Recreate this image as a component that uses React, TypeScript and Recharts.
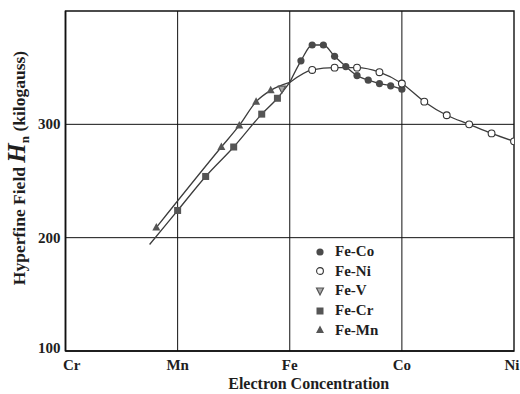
import {
  ComposedChart,
  Line,
  XAxis,
  YAxis,
  ReferenceLine,
  ReferenceArea,
  Legend,
} from 'recharts'

const ELEMENTS = ['Cr', 'Mn', 'Fe', 'Co', 'Ni']
const ELECTRON_TICKS = [6, 7, 8, 9, 10]
const FIELD_TICKS = [100, 200, 300]
const GRID_EC = [7, 8, 9]
const GRID_H = [200, 300]

// electron concentration vs hyperfine field (kilogauss), one pair of arrays per alloy
const FE_CO_EC = [8.0, 8.1, 8.2, 8.3, 8.4, 8.5, 8.6, 8.7, 8.8, 8.9, 9.0]
const FE_CO_H = [337, 356, 370, 370, 360, 351, 343, 339, 336, 334, 331]
const FE_NI_EC = [8.0, 8.2, 8.4, 8.6, 8.8, 9.0, 9.2, 9.4, 9.6, 9.8, 10.0]
const FE_NI_H = [337, 348, 350, 350, 346, 336, 320, 308, 300, 292, 285]
const FE_V_EC = [7.93]
const FE_V_H = [331]
const FE_CR_EC = [6.75, 7.0, 7.25, 7.5, 7.75, 7.89, 8.0]
const FE_CR_H = [194, 224, 254, 280, 309, 323, 337]
const FE_MN_EC = [6.81, 7.39, 7.55, 7.7, 7.83, 8.0]
const FE_MN_H = [209, 280, 299, 320, 330, 337]

type MarkerKind = 'dot' | 'ring' | 'vee' | 'square' | 'tri'

const SERIES: {
  name: string
  ec: number[]
  h: number[]
  marker: MarkerKind
  bare: number[]
  drawLine: boolean
}[] = [
  { name: 'Fe-Co', ec: FE_CO_EC, h: FE_CO_H, marker: 'dot', bare: [0], drawLine: true },
  { name: 'Fe-Ni', ec: FE_NI_EC, h: FE_NI_H, marker: 'ring', bare: [0], drawLine: true },
  { name: 'Fe-V', ec: FE_V_EC, h: FE_V_H, marker: 'vee', bare: [], drawLine: false },
  { name: 'Fe-Cr', ec: FE_CR_EC, h: FE_CR_H, marker: 'square', bare: [0, 6], drawLine: true },
  { name: 'Fe-Mn', ec: FE_MN_EC, h: FE_MN_H, marker: 'tri', bare: [5], drawLine: true },
]

const SERIF = '"Liberation Serif", "Times New Roman", serif'
const INK = '#1e1e1e'
const CURVE = '#3d3d3d'

function Marker({ kind, cx, cy }: { kind: MarkerKind; cx: number; cy: number }) {
  switch (kind) {
    case 'dot':
      return <circle cx={cx} cy={cy} r={3.6} fill="#4a4a4a" />
    case 'ring':
      return <circle cx={cx} cy={cy} r={3.4} fill="#fff" stroke="#333" strokeWidth={1.1} />
    case 'vee':
      return (
        <polygon
          points={`${cx - 3.5},${cy - 3} ${cx + 3.5},${cy - 3} ${cx},${cy + 4}`}
          fill="#aaa"
          stroke="#555"
          strokeWidth={1.2}
        />
      )
    case 'square':
      return <rect x={cx - 3.5} y={cy - 3.5} width={7} height={7} fill="#555" />
    case 'tri':
      return (
        <polygon
          points={`${cx},${cy - 4.5} ${cx - 4},${cy + 3} ${cx + 4},${cy + 3}`}
          fill="#555"
        />
      )
  }
}

function ElementTick({ x, y, payload }: any) {
  const i = ELECTRON_TICKS.indexOf(payload.value)
  const first = i === 0
  return (
    <text
      x={first ? x - 2.5 : x}
      y={y + 17}
      textAnchor={first ? 'start' : 'middle'}
      fontFamily={SERIF}
      fontWeight="bold"
      fontSize={15}
      fill={INK}
    >
      {ELEMENTS[i]}
    </text>
  )
}

function FieldTick({ x, y, payload }: any) {
  return (
    <text
      x={x}
      y={y}
      dy={payload.value === 100 ? 2 : 5}
      textAnchor="end"
      fontFamily={SERIF}
      fontWeight="bold"
      fontSize={15}
      fill={INK}
    >
      {payload.value}
    </text>
  )
}

function FieldLabel({ viewBox }: any) {
  const cx = 25
  const cy = viewBox.y + viewBox.height / 2 - 13
  return (
    <text
      transform={`translate(${cx},${cy}) rotate(-90)`}
      textAnchor="middle"
      fontFamily={SERIF}
      fontWeight="bold"
      fontSize={17.5}
      fill={INK}
    >
      <tspan>Hyperfine Field </tspan>
      <tspan fontStyle="italic" fontSize={25}>H</tspan>
      <tspan fontSize={13} dy={4}>n</tspan>
      <tspan dy={-4}> (kilogauss)</tspan>
    </text>
  )
}

function ElectronLabel({ viewBox }: any) {
  return (
    <text
      x={viewBox.x + viewBox.width / 2 + 19}
      y={viewBox.y + 38}
      textAnchor="middle"
      fontFamily={SERIF}
      fontWeight="bold"
      fontSize={16}
      fill={INK}
    >
      Electron Concentration
    </text>
  )
}

function AlloyLegend() {
  return (
    <div style={{ fontFamily: SERIF, fontWeight: 'bold', fontSize: 15, color: INK }}>
      {SERIES.map((s) => (
        <div key={s.name} style={{ display: 'flex', alignItems: 'center', height: 19.6 }}>
          <svg width={12} height={12} style={{ marginRight: 9 }}>
            <Marker kind={s.marker} cx={6} cy={6} />
          </svg>
          <span>{s.name}</span>
        </div>
      ))}
    </div>
  )
}

export default function App() {
  return (
    <div style={{ position: 'absolute', left: 0, top: 0, width: 520, height: 394, background: '#fff' }}>
      <ComposedChart width={520} height={394} margin={{ top: 11, right: 6, bottom: 0, left: 5 }}>
        <XAxis
          type="number"
          dataKey="ec"
          domain={[6, 10]}
          ticks={ELECTRON_TICKS}
          allowDataOverflow
          height={43}
          tickLine={false}
          tickSize={0}
          axisLine={{ stroke: '#111', strokeWidth: 1.6 }}
          tick={<ElementTick />}
          label={<ElectronLabel />}
        />
        <YAxis
          type="number"
          domain={[100, 400]}
          ticks={FIELD_TICKS}
          allowDataOverflow
          width={60.5}
          tickLine={false}
          tickSize={0}
          tickMargin={5}
          axisLine={{ stroke: '#111', strokeWidth: 1.6 }}
          tick={<FieldTick />}
          label={<FieldLabel />}
        />
        <ReferenceArea x1={6} x2={10} y1={100} y2={400} fill="none" stroke="#111" strokeWidth={1.4} />
        {GRID_EC.map((v) => (
          <ReferenceLine key={`x${v}`} x={v} stroke="#111" strokeWidth={1} />
        ))}
        {GRID_H.map((v) => (
          <ReferenceLine key={`y${v}`} y={v} stroke="#111" strokeWidth={1} />
        ))}
        {SERIES.map((s) => (
          <Line
            key={s.name}
            name={s.name}
            data={s.ec.map((ec, i) => ({ ec, h: s.h[i] }))}
            dataKey="h"
            type="monotone"
            stroke={s.drawLine ? CURVE : 'none'}
            strokeWidth={1.3}
            isAnimationActive={false}
            dot={(p: any) =>
              s.bare.includes(p.index) ? (
                <g key={p.index} />
              ) : (
                <Marker key={p.index} kind={s.marker} cx={p.cx} cy={p.cy} />
              )
            }
            activeDot={false}
          />
        ))}
        <Legend
          layout="vertical"
          align="center"
          verticalAlign="middle"
          wrapperStyle={{ left: 314, top: 242, width: 110 }}
          content={() => <AlloyLegend />}
        />
      </ComposedChart>
    </div>
  )
}
